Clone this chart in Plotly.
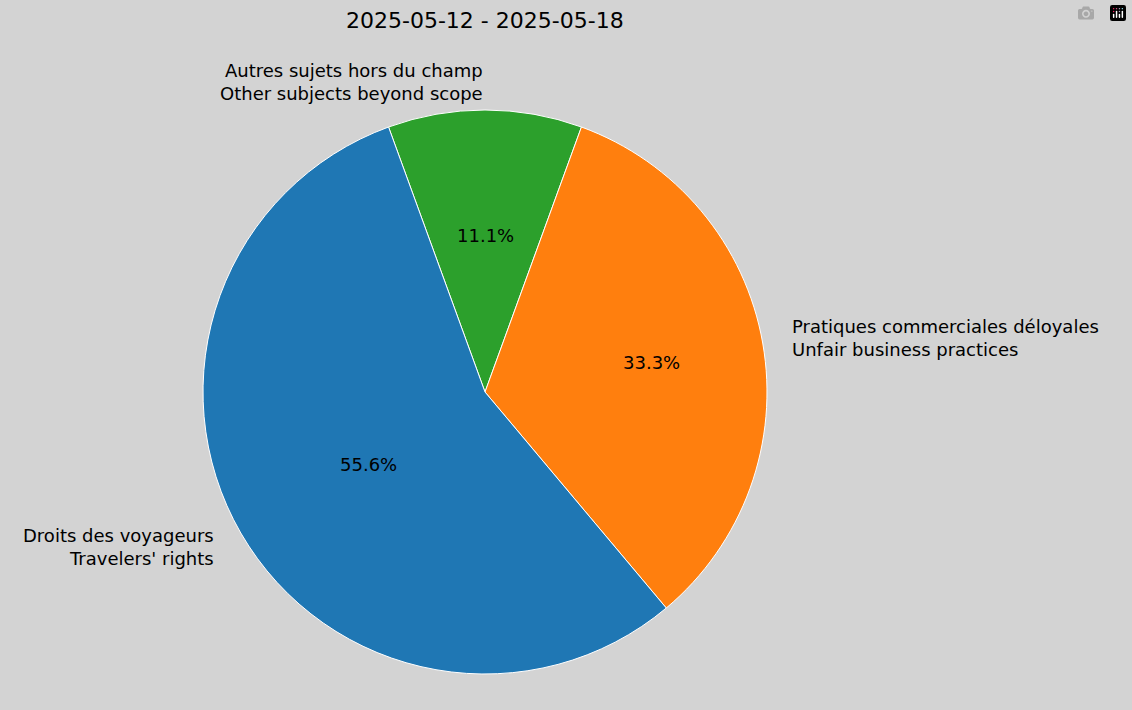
import numpy as np
import plotly.graph_objects as go

labels = ["Droits des voyageurs<br>Travelers' rights",
          "Pratiques commerciales déloyales<br>Unfair business practices",
          "Autres sujets hors du champ<br>Other subjects beyond scope"]
values = [5, 3, 1]
colors = ["#1f77b4", "#ff7f0e", "#2ca02c"]
title = "2025-05-12 - 2025-05-18"

W, H = 1132, 710
cx, cy, r = 485, 392, 282
start = 110  # slices go counterclockwise from here, like matplotlib

# drawn clockwise in reverse order so the layout matches a counterclockwise pie
fig = go.Figure(go.Pie(
    labels=labels[::-1], values=values[::-1], sort=False, direction="clockwise",
    rotation=-(start - 90), textinfo="none", hoverinfo="label+percent",
    marker=dict(colors=colors[::-1], line=dict(color="white", width=1)),
    domain=dict(x=[(cx - r) / W, (cx + r) / W], y=[(H - cy - r) / H, (H - cy + r) / H]),
    showlegend=False,
))

total = sum(values)
ang = start
annotations = []
for lab, v in zip(labels, values):
    span = 360 * v / total
    mid = np.radians(ang + span / 2)
    ang += span
    c, s = np.cos(mid), np.sin(mid)
    annotations.append(dict(
        x=(cx + 0.6 * r * c) / W, y=(H - cy + 0.6 * r * s) / H, xref="paper", yref="paper",
        text=f"{100 * v / total:.1f}%", showarrow=False, font=dict(size=18, color="black")))
    annotations.append(dict(
        x=(cx + 1.1 * r * c) / W, y=(H - cy + 1.1 * r * s) / H, xref="paper", yref="paper",
        text=lab, showarrow=False, font=dict(size=18, color="black"),
        xanchor="left" if c > 0.01 else "right", align="left" if c > 0.01 else "right",
        yanchor="middle"))

annotations.append(dict(x=cx / W, y=1 - 21 / H, xref="paper", yref="paper", text=title,
                        showarrow=False, font=dict(size=22, color="black"), yanchor="middle"))

fig.update_layout(
    width=W, height=H, margin=dict(l=0, r=0, t=0, b=0),
    paper_bgcolor="#d3d3d3", plot_bgcolor="#d3d3d3",
    font=dict(family="DejaVu Sans"), annotations=annotations,
)

fig.write_html("out.html", post_script="document.body.style.margin='0';")
